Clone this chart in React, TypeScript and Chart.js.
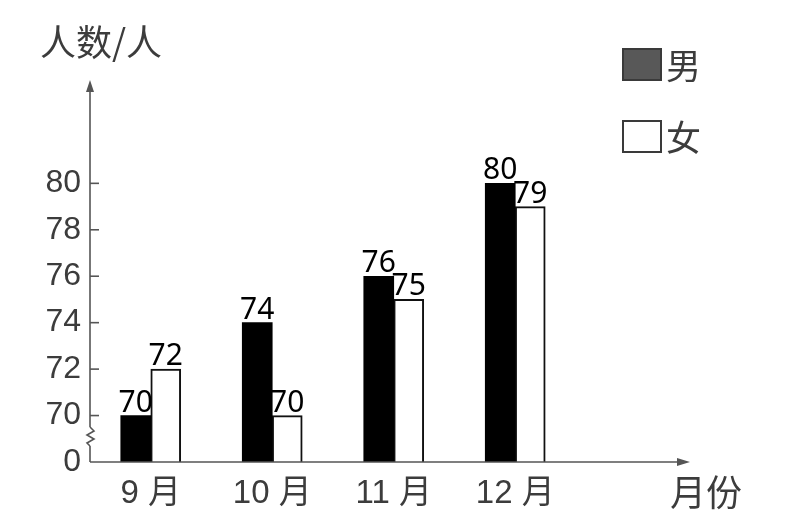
import React, { useEffect, useRef } from "react";
import { Chart, registerables } from "chart.js";

Chart.register(...registerables);

const categories = ["9 月", "10 月", "11 月", "12 月"];
const seriesLabels = ["男", "女"];
const maleValues = [70, 74, 76, 80];
const femaleValues = [72, 70, 75, 79];
const yTickValues = [70, 72, 74, 76, 78, 80];
const yBreakValue = 68;
const yBreakLabel = "0";
const yMax = 84.45;
const yAxisTitle = "人数/人";
const xAxisTitle = "月份";

const AXIS_COLOR = "#555";
const TEXT_COLOR = "#3c3c3c";
const CJK = '"Noto Sans CJK SC", sans-serif';
const LATIN_CJK = '"Liberation Sans", "Noto Sans CJK SC", sans-serif';

const decorations = {
  id: "decorations",
  afterDraw(chart: any) {
    const ctx = chart.ctx as CanvasRenderingContext2D;
    const area = chart.chartArea;
    const yScale = chart.scales.y;
    const x0 = area.left;
    const y0 = area.bottom;
    const xEnd = 690;
    const yTop = area.top;
    ctx.save();
    ctx.strokeStyle = AXIS_COLOR;
    ctx.fillStyle = AXIS_COLOR;
    ctx.lineWidth = 1.6;
    // y axis
    ctx.beginPath();
    ctx.moveTo(x0, y0);
    ctx.lineTo(x0, yTop + 8);
    ctx.stroke();
    ctx.beginPath();
    ctx.moveTo(x0, yTop);
    ctx.lineTo(x0 - 4, yTop + 12);
    ctx.lineTo(x0 + 4, yTop + 12);
    ctx.closePath();
    ctx.fill();
    // x axis
    ctx.beginPath();
    ctx.moveTo(x0, y0);
    ctx.lineTo(xEnd - 8, y0);
    ctx.stroke();
    ctx.beginPath();
    ctx.moveTo(xEnd, y0);
    ctx.lineTo(xEnd - 13, y0 - 4);
    ctx.lineTo(xEnd - 13, y0 + 4);
    ctx.closePath();
    ctx.fill();
    // tick marks
    yScale.ticks.forEach((t: any) => {
      if (t.value === yBreakValue) return;
      const py = yScale.getPixelForValue(t.value);
      ctx.beginPath();
      ctx.moveTo(x0, py);
      ctx.lineTo(x0 + 9, py);
      ctx.stroke();
    });
    // axis break zigzag
    const zTop = 427;
    const zBot = 446;
    ctx.fillStyle = "#fff";
    ctx.fillRect(x0 - 2, zTop, 4, zBot - zTop);
    ctx.beginPath();
    ctx.moveTo(x0, zTop);
    ctx.lineTo(x0 + 4, zTop + 4);
    ctx.lineTo(x0 - 3, zTop + 8);
    ctx.lineTo(x0 + 4, zTop + 12);
    ctx.lineTo(x0 - 3, zTop + 16);
    ctx.lineTo(x0, zBot);
    ctx.stroke();

    // data labels
    ctx.fillStyle = "#000";
    ctx.font = '30px "Noto Sans", sans-serif';
    ctx.textAlign = "center";
    ctx.textBaseline = "alphabetic";
    chart.data.datasets.forEach((ds: any, di: number) => {
      const meta = chart.getDatasetMeta(di);
      meta.data.forEach((bar: any, i: number) => {
        ctx.fillText(String(ds.data[i]), bar.x, bar.y - 4);
      });
    });

    // axis titles
    ctx.fillStyle = TEXT_COLOR;
    ctx.font = "36px " + CJK;
    ctx.textAlign = "left";
    ctx.textBaseline = "middle";
    ctx.fillText(yAxisTitle, 40, 42);
    ctx.fillText(xAxisTitle, 670, 492);

    // legend
    const boxX = 623;
    const boxW = 38;
    const boxH = 31;
    const rows = [49, 121];
    chart.data.datasets.forEach((ds: any, di: number) => {
      const by = rows[di];
      ctx.lineWidth = 2;
      ctx.strokeStyle = "#3a3a3a";
      ctx.fillStyle = di === 0 ? "#585858" : "#ffffff";
      ctx.fillRect(boxX, by, boxW, boxH);
      ctx.strokeRect(boxX, by, boxW, boxH);
      ctx.fillStyle = TEXT_COLOR;
      ctx.font = "35px " + CJK;
      ctx.textAlign = "left";
      ctx.textBaseline = "middle";
      ctx.fillText(ds.label, 666, by + boxH / 2 + 1);
    });
    ctx.restore();
  },
};

export default function App() {
  const canvasRef = useRef<HTMLCanvasElement | null>(null);

  useEffect(() => {
    if (!canvasRef.current) return;
    const chart = new Chart(canvasRef.current, {
      type: "bar",
      data: {
        labels: categories,
        datasets: [
          {
            label: seriesLabels[0],
            data: maleValues,
            backgroundColor: "#000",
            borderWidth: 0,
            base: yBreakValue,
            barThickness: 30,
          },
          {
            label: seriesLabels[1],
            data: femaleValues,
            backgroundColor: "#fff",
            borderColor: "#111",
            borderWidth: 2,
            borderSkipped: "bottom",
            base: yBreakValue,
            barThickness: 30,
          },
        ],
      },
      options: {
        animation: false,
        responsive: true,
        maintainAspectRatio: false,
        layout: { padding: { left: 0, top: 80, right: 229, bottom: 0 } },
        plugins: {
          legend: { display: false },
          tooltip: { enabled: false },
          title: { display: false },
        },
        scales: {
          x: {
            type: "category",
            offset: true,
            grid: { display: false, drawTicks: false },
            border: { display: false },
            ticks: {
              color: TEXT_COLOR,
              font: { family: LATIN_CJK, size: 33 },
              padding: 12,
              maxRotation: 0,
              autoSkip: false,
            },
            afterFit: (scale: any) => {
              scale.height = 55;
            },
          },
          y: {
            type: "linear",
            min: yBreakValue,
            max: yMax,
            beginAtZero: false,
            grid: { display: false, drawTicks: false },
            border: { display: false },
            afterBuildTicks: (scale: any) => {
              scale.ticks = [yBreakValue, ...yTickValues].map((v) => ({ value: v }));
            },
            ticks: {
              color: TEXT_COLOR,
              font: { family: '"Liberation Sans", sans-serif', size: 32 },
              padding: 9,
              callback: (value: any) =>
                Number(value) === yBreakValue ? yBreakLabel : String(value),
            },
            afterFit: (scale: any) => {
              scale.width = 90;
            },
          },
        },
      },
      plugins: [decorations],
    });
    return () => chart.destroy();
  }, []);

  return (
    <div
      style={{
        position: "absolute",
        left: 0,
        top: 0,
        width: 805,
        height: 517,
        background: "#fff",
      }}
    >
      <canvas ref={canvasRef} />
    </div>
  );
}
